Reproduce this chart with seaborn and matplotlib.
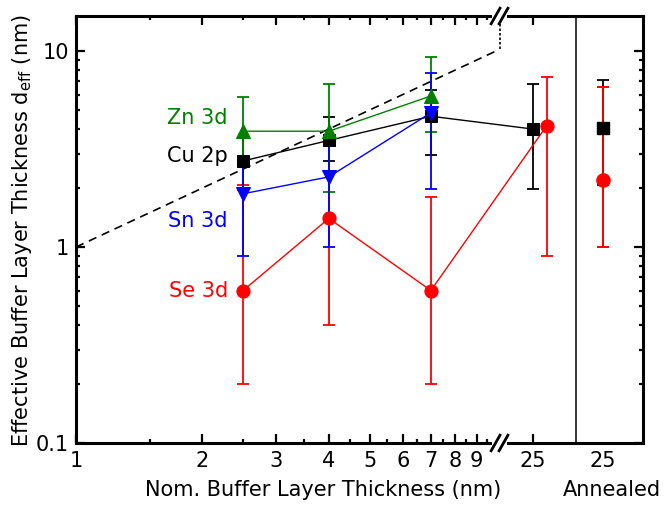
import math
import matplotlib
matplotlib.use("Agg")
import matplotlib.pyplot as plt
import matplotlib.ticker as mticker
from matplotlib.patches import Rectangle
import seaborn as sns
import pandas as pd

# ---------------- data ----------------
zn_x = [2.5, 4, 7]
zn_y = [3.9, 3.9, 5.9]
zn_lo = [1.95, 1.9, 3.87]
zn_hi = [5.8, 6.8, 9.3]

cu_x = [2.5, 4, 7, 25]
cu_y = [2.75, 3.5, 4.65, 4.0]
cu_lo = [2.0, 2.75, 2.95, 1.98]
cu_hi = [3.6, 4.62, 6.3, 6.8]

sn_x = [2.5, 4, 7]
sn_y = [1.87, 2.28, 4.84]
sn_lo = [0.9, 1.0, 1.98]
sn_hi = [2.91, 3.6, 7.7]

se_x = [2.5, 4, 7, 25]
se_y = [0.6, 1.4, 0.6, 4.15]
se_lo = [0.2, 0.4, 0.2, 0.9]
se_hi = [2.07, 3.46, 1.79, 7.4]

# annealed 25 nm samples
ann_cu = [4.06]
ann_cu_lo = [2.07]
ann_cu_hi = [7.08]
ann_se = [2.2]
ann_se_lo = [1.0]
ann_se_hi = [6.55]

x_tick_vals = [1, 2, 3, 4, 5, 6, 7, 8, 9]
y_tick_vals = [0.1, 1, 10]
y_tick_labels = ["0.1", "1", "10"]

# ------------- axis-break position mapping -------------
BREAK = 10.2          # where the log axis is broken
POS_25 = 12.25        # display position of the 25 nm (as-deposited) column
POS_25_SE = 13.2      # Se 3d shifted slightly for visibility
SEP = 15.5            # separator between as-deposited and annealed
POS_ANN = 17.98       # annealed column
XMAX = 22.4


def pos(xs, shift=False):
    out = []
    for v in xs:
        if v > BREAK:
            out.append(POS_25_SE if shift else POS_25)
        else:
            out.append(v)
    return out


sns.set_style("ticks")
plt.rcParams["font.family"] = ["DejaVu Sans"]
plt.rcParams["mathtext.fontset"] = "dejavusans"
plt.rcParams["text.color"] = "black"
plt.rcParams["axes.labelcolor"] = "black"

fig = plt.figure(figsize=(6.65, 5.05), dpi=100)
ax = fig.add_axes([76 / 665, 1 - 443 / 505, 567 / 665, 427 / 505])
ax.set_xscale("log")
ax.set_yscale("log")

series = [
    ("Se 3d", se_x, se_y, se_lo, se_hi, "#ff0000", "o", 9.5, True),
    ("Cu 2p", cu_x, cu_y, cu_lo, cu_hi, "#000000", "s", 8, False),
    ("Zn 3d", zn_x, zn_y, zn_lo, zn_hi, "#008000", "^", 10, False),
    ("Sn 3d", sn_x, sn_y, sn_lo, sn_hi, "#0000ff", "v", 10, False),
]

for name, xs, ys, lo, hi, col, mk, ms, shift in series:
    px = pos(xs, shift)
    df = pd.DataFrame({"x": px, "y": ys})
    sns.lineplot(data=df, x="x", y="y", color=col, marker=mk, markersize=ms,
                 markeredgecolor=col, linewidth=1.0, ax=ax, sort=False,
                 estimator=None, zorder=3)
    yerr = [[y - l for y, l in zip(ys, lo)], [h - y for y, h in zip(ys, hi)]]
    ax.errorbar(px, ys, yerr=yerr, fmt="none", ecolor=col, elinewidth=1.3,
                capsize=4.5, capthick=1.3, zorder=2.5)

# annealed points (not connected)
for ys, lo, hi, col, mk, ms in [
    (ann_se, ann_se_lo, ann_se_hi, "#ff0000", "o", 9.5),
    (ann_cu, ann_cu_lo, ann_cu_hi, "#000000", "s", 8),
]:
    px = [POS_ANN] * len(ys)
    yerr = [[y - l for y, l in zip(ys, lo)], [h - y for y, h in zip(ys, hi)]]
    ax.errorbar(px, ys, yerr=yerr, fmt="none", ecolor=col, elinewidth=1.3,
                capsize=4.5, capthick=1.3, zorder=2.5)
    ax.plot(px, ys, linestyle="none", marker=mk, markersize=ms, color=col,
            markeredgecolor=col, zorder=3)
# Se annealed error bar drawn over the Cu one, as in the reference
ax.errorbar([POS_ANN], ann_se, yerr=[[ann_se[0] - ann_se_lo[0]], [ann_se_hi[0] - ann_se[0]]],
            fmt="none", ecolor="#ff0000", elinewidth=1.3, capsize=4.5, capthick=1.3, zorder=2.7)

# dashed reference line d_eff = d
ax.plot([1, BREAK], [1, BREAK], color="black", linestyle=(0, (5, 3.5)), linewidth=1.2, zorder=2)
ax.plot([BREAK, BREAK], [BREAK, 15.1], color="black", linestyle=(0, (1.5, 1.2)),
        linewidth=1.2, zorder=2)

# separator
ax.axvline(SEP, color="black", linewidth=1.1, zorder=2)

ax.set_xlim(1, XMAX)
ax.set_ylim(0.1, 15.1)

# ticks
ax.xaxis.set_major_locator(mticker.FixedLocator(x_tick_vals + [POS_25, POS_ANN]))
ax.xaxis.set_major_formatter(mticker.FixedFormatter([str(v) for v in x_tick_vals] + ["25", "25"]))
ax.xaxis.set_minor_locator(mticker.FixedLocator([v + 0.5 for v in x_tick_vals]))
ax.xaxis.set_minor_formatter(mticker.NullFormatter())
ax.yaxis.set_major_locator(mticker.FixedLocator(y_tick_vals))
ax.yaxis.set_major_formatter(mticker.FixedFormatter(y_tick_labels))
ax.yaxis.set_minor_locator(mticker.LogLocator(base=10, subs=range(2, 10)))
ax.yaxis.set_minor_formatter(mticker.NullFormatter())

ax.tick_params(which="both", direction="in", top=True, right=True, width=1.6,
               labelsize=15, colors="black")
ax.tick_params(which="major", length=6.5, pad=5)
ax.tick_params(which="minor", length=3.2)
ax.tick_params(axis="x", which="major", pad=6)
last = ax.xaxis.get_major_ticks()[-1]
last.tick1line.set_visible(False)
last.tick2line.set_visible(False)

for s in ax.spines.values():
    s.set_linewidth(2.2)
    s.set_color("black")

# axis break marks
xb = math.log10(BREAK) / math.log10(XMAX)
for yb in (0, 1):
    ax.add_patch(Rectangle((xb - 0.013, yb - 0.012), 0.026, 0.024, transform=ax.transAxes,
                           facecolor="white", edgecolor="none", clip_on=False, zorder=10))
    for dx in (-0.007, 0.007):
        ax.plot([xb + dx - 0.009, xb + dx + 0.009], [yb - 0.021, yb + 0.021],
                transform=ax.transAxes, color="black", linewidth=2.0, clip_on=False,
                zorder=11, solid_capstyle="butt")

# series labels
for txt, yv, col in [("Zn 3d", 4.55, "#008000"), ("Cu 2p", 2.91, "#000000"),
                     ("Sn 3d", 1.36, "#0000ff"), ("Se 3d", 0.6, "#ff0000")]:
    ax.text(2.3, yv, txt, color=col, fontsize=15, ha="right", va="center")

ax.set_xlabel("")
ax.set_ylabel("")
fig.text(323 / 665, 1 - 490 / 505, "Nom. Buffer Layer Thickness (nm)", fontsize=15,
         ha="center", va="center", color="black")
fig.text(612 / 665, 1 - 490 / 505, "Annealed", fontsize=15, ha="center", va="center",
         color="black")
fig.text(22 / 665, 1 - 230 / 505, "Effective Buffer Layer Thickness d$_{\\mathrm{eff}}$ (nm)",
         fontsize=15, rotation=90, ha="center", va="center", color="black")

fig.savefig("out.png", dpi=100)
